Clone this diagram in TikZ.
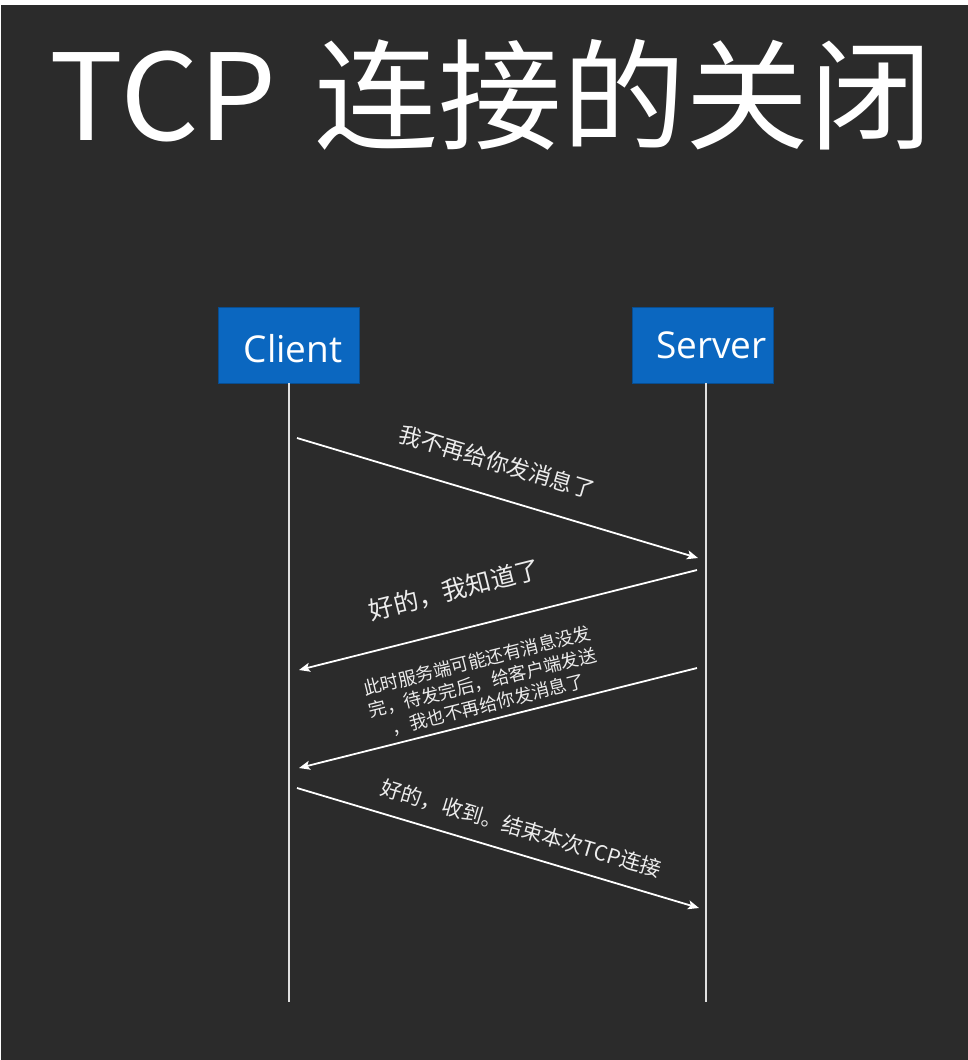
\documentclass[tikz,border=0pt]{standalone}
\usepackage{fontspec}
\setmainfont{Noto Sans CJK SC}
\newfontfamily\boxfont{Open Sans}
\usetikzlibrary{arrows.meta,positioning}

\definecolor{bgdark}{RGB}{43,43,43}
\definecolor{boxblue}{RGB}{11,103,192}
\definecolor{msgtext}{RGB}{236,236,236}

\begin{document}
\begin{tikzpicture}[x=1pt, y=-1pt,
    actor/.style={fill=boxblue, draw=boxblue!75!black, line width=0.6pt,
      minimum width=141pt, minimum height=76pt, inner sep=0pt},
    actortext/.style={text=white, font=\boxfont\fontsize{37}{40}\selectfont,
      inner sep=0pt, anchor=base},
    lifeline/.style={draw=white!88!black, line width=1.5pt},
    msg/.style={draw=white, line width=1.8pt,
      -{Stealth[length=11pt, width=9pt, inset=2.5pt]}},
    msglabel/.style={text=msgtext, inner sep=0pt, sloped}]
  % --- 1. Background ---
  \fill[white] (0,0) rectangle (968,1060);
  \fill[bgdark] (1,5) rectangle (968,1060);
  \useasboundingbox (0,0) rectangle (968,1060);

  % --- 2. Title ---
  \node[text=white, font=\fontsize{120}{130}\selectfont, inner sep=0pt,
    anchor=base west, xscale=1.03, transform shape] (title) at (49,140)
    {TCP\hspace{10pt} 连接的关闭};

  % --- 3. Client and Server ---
  \node[actor] (client) at (288.5,345) {};
  \node[actor] (server) at (702.5,345) {};
  \node[actortext] (clientname) at (293,362) {Client};
  \node[actortext] (servername) at (711.5,358) {Server};

  % Lifelines
  \coordinate (clientend) at (289,1002);
  \coordinate (serverend) at (706,1002);
  \draw[lifeline] (client.south -| clientend) -- (clientend);
  \draw[lifeline] (server.south -| serverend) -- (serverend);

  % --- 4. Messages ---
  \coordinate (c1) at (297,438);  \coordinate (s1) at (698,558);
  \coordinate (s2) at (697,570);  \coordinate (c2) at (299,670);
  \coordinate (s3) at (697,668);  \coordinate (c3) at (299,768);
  \coordinate (c4) at (297,788);  \coordinate (s4) at (699,908);

  \draw[msg] (c1) -- node[msglabel, pos=0.475, above=23pt,
    font=\fontsize{22.5}{26}\selectfont] (m1) {我不再给你发消息了} (s1);
  \draw[msg] (s2) -- node[msglabel, pos=0.585, above=27pt,
    font=\fontsize{25}{29}\selectfont] (m2) {好的，我知道了} (c2);
  \draw[msg] (s3) -- node[msglabel, pos=0.515, above=6pt, align=center,
    font=\fontsize{18}{22.5}\selectfont] (m3)
    {此时服务端可能还有消息没发\\完，待发完后，给客户端发送\\，我也不再给你发消息了} (c3);
  \draw[msg] (c4) -- node[msglabel, pos=0.54, above=14pt,
    font=\fontsize{21}{25}\selectfont] (m4) {好的，收到。结束本次TCP连接} (s4);
\end{tikzpicture}
\end{document}
